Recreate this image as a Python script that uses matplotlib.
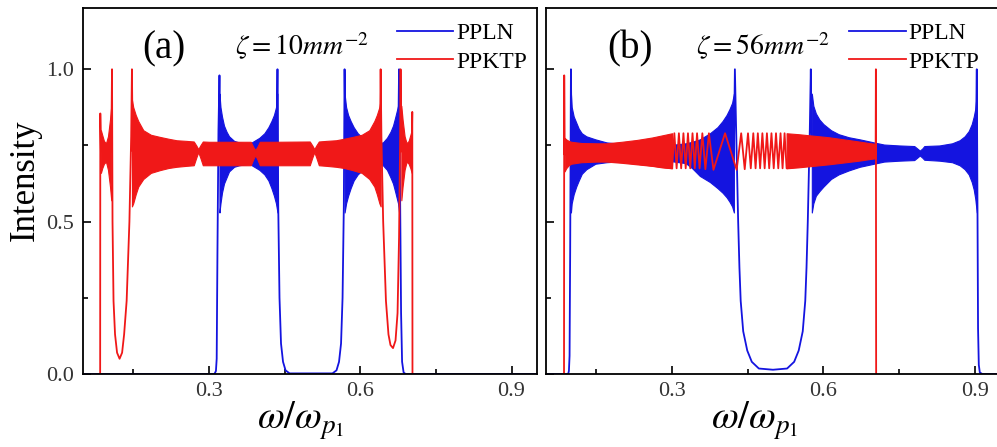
import matplotlib.pyplot as plt

plt.rcParams['font.family'] = ['Liberation Serif', 'DejaVu Serif']
plt.rcParams['mathtext.fontset'] = 'stix'

BLUE = '#1414e0'
RED = '#f01818'

# ---------------- (a)  zeta = 10 mm^-2 ----------------
# PPLN: single-valued parts of the trace (edges, spikes, the dip)
a_ln_x = [0.05, 0.311, 0.314, 0.3155, 0.317, 0.319, 0.321, 0.323,
          0.434, 0.436, 0.4375, 0.440, 0.443, 0.447, 0.452, 0.460,
          0.545, 0.553, 0.558, 0.562, 0.565, 0.5675, 0.569, 0.571,
          0.675, 0.677, 0.679, 0.681, 0.683, 0.686, 0.690, 0.95]
a_ln_y = [0.0, 0.0, 0.01, 0.05, 0.4, 0.8, 0.98, 0.72,
          0.72, 1.0, 0.55, 0.25, 0.10, 0.04, 0.012, 0.002,
          0.002, 0.012, 0.04, 0.10, 0.25, 0.55, 1.0, 0.72,
          0.72, 1.0, 0.6, 0.2, 0.04, 0.005, 0.0, 0.0]
# PPLN: envelopes of the fast fringes
a_ln_b1_x = [0.321, 0.323, 0.326, 0.330, 0.335, 0.340, 0.350, 0.360, 0.380,
             0.400, 0.410, 0.418, 0.424, 0.429, 0.433, 0.436]
a_ln_b1_hi = [0.92, 0.876, 0.845, 0.815, 0.795, 0.78, 0.765, 0.76, 0.755,
              0.775, 0.79, 0.81, 0.83, 0.85, 0.875, 0.92]
a_ln_b1_lo = [0.53, 0.56, 0.595, 0.625, 0.645, 0.665, 0.68, 0.685, 0.69,
              0.67, 0.655, 0.635, 0.61, 0.585, 0.56, 0.53]
a_ln_b2_x = [0.569, 0.572, 0.576, 0.581, 0.587, 0.595, 0.605, 0.625, 0.645,
             0.653, 0.660, 0.665, 0.669, 0.672, 0.675, 0.677]
a_ln_b2_hi = [0.92, 0.876, 0.85, 0.83, 0.81, 0.79, 0.775, 0.755, 0.76,
              0.775, 0.795, 0.815, 0.84, 0.86, 0.88, 0.92]
a_ln_b2_lo = [0.53, 0.56, 0.585, 0.61, 0.635, 0.655, 0.67, 0.69, 0.685,
              0.67, 0.645, 0.625, 0.6, 0.58, 0.56, 0.53]

# PPKTP: edges, spikes and the two dips
a_kt_x = [0.0845, 0.0848, 0.086,
          0.1065, 0.108, 0.109, 0.111, 0.114, 0.118, 0.123, 0.128, 0.132,
          0.137, 0.1425, 0.146, 0.1475, 0.149,
          0.639, 0.6405, 0.642, 0.6455, 0.651, 0.656, 0.660, 0.665, 0.670,
          0.674, 0.677, 0.679, 0.680, 0.6815,
          0.702, 0.7032, 0.7036]
a_kt_y = [0.0, 0.855, 0.73,
          0.73, 1.0, 0.5, 0.24, 0.13, 0.07, 0.05, 0.07, 0.13,
          0.24, 0.5, 0.78, 1.0, 0.73,
          0.73, 1.0, 0.78, 0.5, 0.24, 0.13, 0.095, 0.085, 0.11,
          0.2, 0.45, 0.75, 1.0, 0.73,
          0.73, 0.86, 0.0]
a_kt_b1_x = [0.086, 0.0885, 0.092, 0.096, 0.100, 0.104, 0.1065]
a_kt_b1_hi = [0.80, 0.785, 0.765, 0.757, 0.78, 0.835, 0.88]
a_kt_b1_lo = [0.66, 0.675, 0.69, 0.697, 0.67, 0.615, 0.57]
a_kt_b2_x = [0.1475, 0.150, 0.155, 0.160, 0.170, 0.185, 0.203, 0.220, 0.236,
             0.255, 0.270, 0.275, 0.279, 0.283, 0.288, 0.300, 0.360, 0.383,
             0.388, 0.392, 0.396, 0.401, 0.430, 0.500, 0.505, 0.509, 0.513,
             0.518, 0.533, 0.552, 0.568, 0.585, 0.603, 0.618, 0.628, 0.633,
             0.638, 0.6405]
a_kt_b2_hi = [0.90, 0.876, 0.85, 0.83, 0.80, 0.785, 0.778, 0.772, 0.767,
              0.765, 0.763, 0.75, 0.738, 0.75, 0.763, 0.762, 0.762, 0.762,
              0.745, 0.735, 0.745, 0.762, 0.762, 0.763, 0.75, 0.738, 0.75,
              0.763, 0.765, 0.767, 0.772, 0.778, 0.785, 0.80, 0.83, 0.85,
              0.876, 0.90]
a_kt_b2_lo = [0.55, 0.56, 0.59, 0.615, 0.64, 0.66, 0.669, 0.676, 0.68,
              0.683, 0.685, 0.71, 0.728, 0.71, 0.685, 0.685, 0.685, 0.685,
              0.705, 0.718, 0.705, 0.685, 0.685, 0.685, 0.71, 0.728, 0.71,
              0.685, 0.683, 0.68, 0.676, 0.669, 0.66, 0.64, 0.615, 0.59,
              0.56, 0.55]
a_kt_b3_x = [0.6815, 0.684, 0.688, 0.692, 0.696, 0.6995, 0.702]
a_kt_b3_hi = [0.88, 0.835, 0.78, 0.757, 0.765, 0.785, 0.80]
a_kt_b3_lo = [0.57, 0.615, 0.67, 0.697, 0.69, 0.675, 0.66]

# ---------------- (b)  zeta = 56 mm^-2 ----------------
b_ln_x = [0.05, 0.094, 0.0955, 0.0968, 0.098, 0.099, 0.0995, 0.101,
          0.4225, 0.4245, 0.427, 0.429, 0.431, 0.4335, 0.436, 0.441, 0.449,
          0.458, 0.472, 0.500, 0.528, 0.542, 0.551, 0.559, 0.564, 0.5665,
          0.569, 0.571, 0.573, 0.575, 0.577,
          0.902, 0.904, 0.9055, 0.9065, 0.908, 0.910, 0.915, 0.95]
b_ln_y = [0.0, 0.0, 0.01, 0.06, 0.4, 0.8, 1.0, 0.72,
          0.72, 1.0, 0.8, 0.65, 0.5, 0.35, 0.24, 0.14, 0.077,
          0.04, 0.018, 0.014, 0.018, 0.04, 0.077, 0.14, 0.24, 0.35,
          0.5, 0.65, 0.8, 1.0, 0.72,
          0.72, 1.0, 0.5, 0.15, 0.03, 0.005, 0.0, 0.0]
b_ln_b1_x = [0.0995, 0.101, 0.105, 0.110, 0.115, 0.121, 0.130, 0.148, 0.170,
             0.200, 0.250, 0.300, 0.327, 0.340, 0.355, 0.375, 0.390, 0.400,
             0.408, 0.414, 0.419, 0.4225]
b_ln_b1_hi = [0.92, 0.876, 0.845, 0.825, 0.805, 0.79, 0.78, 0.77, 0.76,
              0.755, 0.752, 0.752, 0.757, 0.762, 0.77, 0.79, 0.81, 0.83,
              0.85, 0.87, 0.89, 0.92]
b_ln_b1_lo = [0.53, 0.56, 0.59, 0.615, 0.635, 0.657, 0.672, 0.69, 0.695,
              0.698, 0.70, 0.698, 0.692, 0.675, 0.65, 0.63, 0.61, 0.595,
              0.58, 0.565, 0.55, 0.53]
b_ln_b2_x = [0.577, 0.580, 0.585, 0.592, 0.600, 0.615, 0.630, 0.650, 0.672,
             0.700, 0.720, 0.750, 0.780, 0.786, 0.791, 0.796, 0.800, 0.830,
             0.855, 0.870, 0.880, 0.888, 0.894, 0.898, 0.901, 0.904]
b_ln_b2_hi = [0.92, 0.88, 0.855, 0.835, 0.82, 0.80, 0.787, 0.777, 0.77,
              0.76, 0.753, 0.75, 0.748, 0.74, 0.733, 0.74, 0.748, 0.75,
              0.757, 0.767, 0.78, 0.797, 0.82, 0.845, 0.87, 0.92]
b_ln_b2_lo = [0.53, 0.56, 0.585, 0.60, 0.615, 0.64, 0.655, 0.668, 0.68,
              0.69, 0.697, 0.70, 0.702, 0.71, 0.717, 0.71, 0.703, 0.70,
              0.695, 0.685, 0.672, 0.655, 0.63, 0.605, 0.575, 0.53]

# PPKTP: edges plus the resolved fringes around the centre
b_kt_start_x = [0.0858, 0.0862, 0.087]
b_kt_start_y = [0.0, 0.98, 0.72]
b_kt_zz_x = [0.300, 0.3045, 0.309, 0.3135, 0.318, 0.3225, 0.327, 0.3315,
             0.336, 0.3405, 0.345, 0.3495, 0.3545, 0.360, 0.366, 0.373,
             0.382, 0.405, 0.428, 0.437, 0.444, 0.4505, 0.456, 0.461,
             0.4655, 0.470, 0.4745, 0.479, 0.4835, 0.488, 0.4925, 0.497,
             0.5015, 0.506, 0.5105, 0.515, 0.519, 0.523, 0.527]
b_kt_zz_y = [0.675, 0.79, 0.675, 0.79, 0.675, 0.79, 0.675, 0.79,
             0.675, 0.79, 0.675, 0.79, 0.675, 0.79, 0.672, 0.79,
             0.67, 0.79, 0.67, 0.79, 0.672, 0.79, 0.675, 0.79,
             0.675, 0.79, 0.675, 0.79, 0.675, 0.79, 0.675, 0.79,
             0.675, 0.79, 0.675, 0.79, 0.675, 0.79, 0.675]
b_kt_end_x = [0.7035, 0.704, 0.7045]
b_kt_end_y = [0.72, 1.0, 0.0]
b_kt_b1_x = [0.087, 0.090, 0.095, 0.100, 0.120, 0.150, 0.170, 0.200, 0.230,
             0.260, 0.280, 0.300]
b_kt_b1_hi = [0.775, 0.77, 0.765, 0.762, 0.758, 0.757, 0.757, 0.762, 0.768,
              0.776, 0.783, 0.79]
b_kt_b1_lo = [0.665, 0.675, 0.685, 0.69, 0.695, 0.697, 0.697, 0.693, 0.688,
              0.683, 0.678, 0.675]
b_kt_b2_x = [0.527, 0.550, 0.580, 0.610, 0.640, 0.670, 0.690, 0.7035]
b_kt_b2_hi = [0.79, 0.787, 0.782, 0.777, 0.77, 0.763, 0.758, 0.755]
b_kt_b2_lo = [0.675, 0.678, 0.683, 0.688, 0.694, 0.70, 0.705, 0.708]


def band(ax, x, hi, lo, color, z):
    ax.fill_between(x, lo, hi, color=color, lw=0.8, edgecolor=color, zorder=z)


def style(ax, ylabels=True):
    ax.set_xlim(0.05, 0.95)
    ax.set_ylim(0.0, 1.2)
    ax.set_xticks([0.3, 0.6, 0.9])
    ax.set_xticklabels(['0.3', '0.6', '0.9'])
    ax.set_xticks([0.15, 0.45, 0.75], minor=True)
    ax.set_yticks([0.0, 0.5, 1.0])
    ax.set_yticks([0.25, 0.75], minor=True)
    if ylabels:
        ax.set_yticklabels(['0.0', '0.5', '1.0'])
    else:
        ax.set_yticklabels([])
    ax.tick_params(which='major', direction='in', length=6, width=1.2,
                   labelsize=16, labelcolor='#333333', pad=6)
    ax.tick_params(which='minor', direction='in', length=3.5, width=1.2)
    for sp in ax.spines.values():
        sp.set_linewidth(1.3)
        sp.set_zorder(5)
    ax.set_xlabel(r'$\omega/\omega_{p_1}$', fontsize=28, labelpad=2)


fig = plt.figure(figsize=(9.97, 4.47), dpi=100)
ax1 = fig.add_axes([0.083, 0.1633, 0.4554, 0.8181])
ax2 = fig.add_axes([0.5476, 0.1633, 0.4554, 0.8181])

# panel (a): PPLN underneath, PPKTP on top
ax1.plot(a_ln_x, a_ln_y, color=BLUE, lw=1.3, label='PPLN', zorder=2)
band(ax1, a_ln_b1_x, a_ln_b1_hi, a_ln_b1_lo, BLUE, 2)
band(ax1, a_ln_b2_x, a_ln_b2_hi, a_ln_b2_lo, BLUE, 2)
ax1.plot(a_kt_x, a_kt_y, color=RED, lw=1.3, label='PPKTP', zorder=3)
band(ax1, a_kt_b1_x, a_kt_b1_hi, a_kt_b1_lo, RED, 3)
band(ax1, a_kt_b2_x, a_kt_b2_hi, a_kt_b2_lo, RED, 3)
band(ax1, a_kt_b3_x, a_kt_b3_hi, a_kt_b3_lo, RED, 3)

# panel (b)
ax2.plot(b_ln_x, b_ln_y, color=BLUE, lw=1.3, label='PPLN', zorder=2)
band(ax2, b_ln_b1_x, b_ln_b1_hi, b_ln_b1_lo, BLUE, 2)
band(ax2, b_ln_b2_x, b_ln_b2_hi, b_ln_b2_lo, BLUE, 2)
ax2.plot(b_kt_start_x + b_kt_zz_x + b_kt_end_x,
         b_kt_start_y + b_kt_zz_y + b_kt_end_y,
         color=RED, lw=1.3, label='PPKTP', zorder=3)
band(ax2, b_kt_b1_x, b_kt_b1_hi, b_kt_b1_lo, RED, 3)
band(ax2, b_kt_b2_x, b_kt_b2_hi, b_kt_b2_lo, RED, 3)

style(ax1)
style(ax2, ylabels=False)
ax1.set_ylabel('Intensity', fontsize=25)
ax1.yaxis.set_label_coords(-0.09, 0.53)
ax1.xaxis.set_label_coords(0.48, -0.07)
ax2.xaxis.set_label_coords(0.46, -0.07)

ax1.text(0.211, 1.066, '(a)', fontsize=28, ha='center', va='center')
ax2.text(0.2165, 1.066, '(b)', fontsize=28, ha='center', va='center')
ax1.text(0.485, 1.075, r'$\zeta = 10mm^{-2}$', fontsize=20,
         ha='center', va='center')
ax2.text(0.480, 1.075, r'$\zeta = 56mm^{-2}$', fontsize=20,
         ha='center', va='center')

for ax, right in ((ax1, 0.984), (ax2, 0.96)):
    ax.legend(loc='upper right', bbox_to_anchor=(right, 0.968), frameon=False,
              fontsize=17, handlelength=2.4, handletextpad=0.12,
              labelspacing=0.3, borderpad=0.1, borderaxespad=0.0)

fig.savefig('out.png', dpi=100)
